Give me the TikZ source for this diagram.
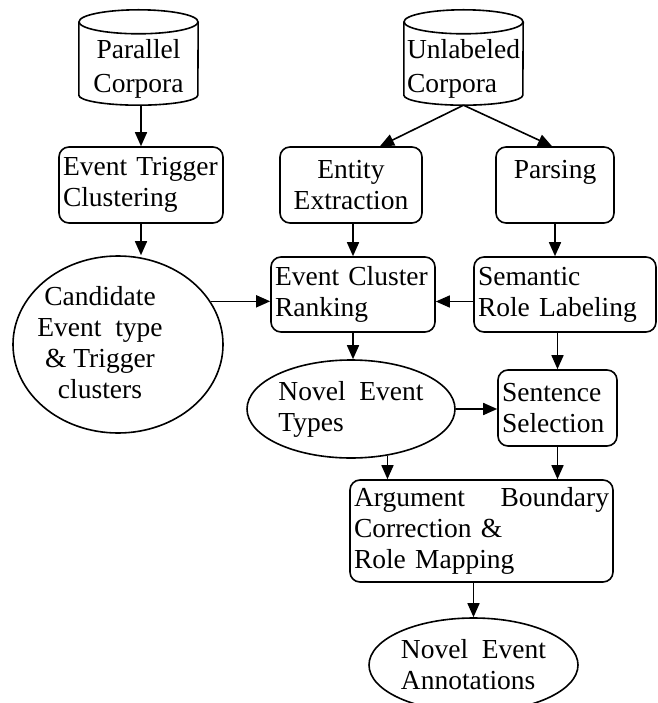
\documentclass[tikz,border=0pt]{standalone}
\usepackage{fontspec}
\setmainfont{Liberation Serif}
\usetikzlibrary{positioning,arrows.meta,shapes.geometric,calc}

\tikzset{
  box/.style={draw, line width=1.6pt, rounded corners=10pt, inner xsep=4pt, inner ysep=0pt, align=left},
  blob/.style={ellipse, draw, line width=1.6pt, inner sep=0pt},
  store/.style={inner sep=0pt, minimum width=119pt, minimum height=95pt},
  storetext/.style={yshift=-11.5pt, font=\fontsize{27.5}{34}\selectfont},
  flow/.style={-{Triangle[length=14pt,width=12pt]}, line width=1.6pt},
}

\begin{document}
\begin{tikzpicture}[x=1pt, y=-1pt, font=\fontsize{27.5}{31}\selectfont]
  \useasboundingbox (0,0) rectangle (657,703);

  % corpora
  \node[store, label={[storetext, align=center]center:Parallel\\Corpora}] (pc) at (138.5,57.5) {};
  \node[store, label={[storetext, align=left]center:Unlabeled\\Corpora}] (uc) at (463.5,57.5) {};
  \foreach \n in {pc,uc} {
    \draw[line width=1.6pt] ([yshift=-12pt]\n.north) ellipse [x radius=59.5pt, y radius=12pt];
    \draw[line width=1.6pt] ([yshift=-12pt]\n.north west) -- ([yshift=10pt]\n.south west)
      arc [start angle=180, end angle=360, x radius=59.5pt, y radius=10pt] -- ([yshift=-12pt]\n.north east);
  }

  % first row of steps
  \node[box, text width=156pt, minimum height=76pt] (etc) at (141,185) {Event Trigger\\Clustering};
  \node[box, text width=134pt, minimum height=76pt, align=center] (ee) at (351,185) {Entity\\Extraction};
  \node[box, text width=110pt, minimum height=76pt, align=center] (pa) at (555,185) {Parsing\\~};

  % ranking and labeling
  \node[blob, minimum width=210pt, minimum height=177pt] (cand) at (118,344.5) {};
  \node[align=center] at (100,343) {Candidate\\Event~ type\\\&~Trigger\\clusters};
  \node[box, text width=156pt, minimum height=75pt] (ecr) at (353,294.5) {Event Cluster\\Ranking};
  \node[box, text width=174pt, minimum height=75pt] (srl) at (565,294.5) {Semantic\\Role Labeling};

  % novel types and selection
  \node[blob, minimum width=208pt, minimum height=98pt, align=left] (net) at (351,409) {Novel~ Event\\Types};
  \node[box, text width=111pt, minimum height=76pt] (ss) at (557.5,408) {Sentence\\Selection};

  % output
  \node[box, text width=255pt, minimum height=102pt] (abc) at (481.5,531) {Argument\hfill Boundary\\Correction \&\\Role Mapping};
  \node[blob, minimum width=209pt, minimum height=94pt, align=left] (nea) at (473.5,665) {Novel~ Event\\Annotations};

  % arrows
  \draw[flow] (etc.north |- pc.south) -- (etc.north);
  \draw[flow] (uc.south) -- ([xshift=29pt]ee.north);
  \draw[flow] (uc.south) -- ([xshift=-3pt]pa.north);
  \draw[flow] (etc.south) -- (etc.south |- cand.north);
  \draw[flow] (ecr.north |- ee.south) -- (ecr.north);
  \draw[flow] (pa.south) -- (pa.south |- srl.north);
  \draw[flow] (cand.25.5) -- (cand.25.5 -| ecr.west);
  \draw[flow] ([yshift=-7pt]srl.west) -- ([yshift=-7pt]srl.west -| ecr.east);
  \draw[flow] (ecr.south) -- (ecr.south |- net.north);
  \draw[flow] (net.east) -- (net.east -| ss.west);
  \draw[flow] (ss.north |- srl.south) -- (ss.north);
  \draw[flow] (net.-52) -- (net.-52 |- abc.north);
  \draw[flow] (ss.south) -- (ss.south |- abc.north);
  \draw[flow] (nea.north |- abc.south) -- (nea.north);
\end{tikzpicture}
\end{document}
